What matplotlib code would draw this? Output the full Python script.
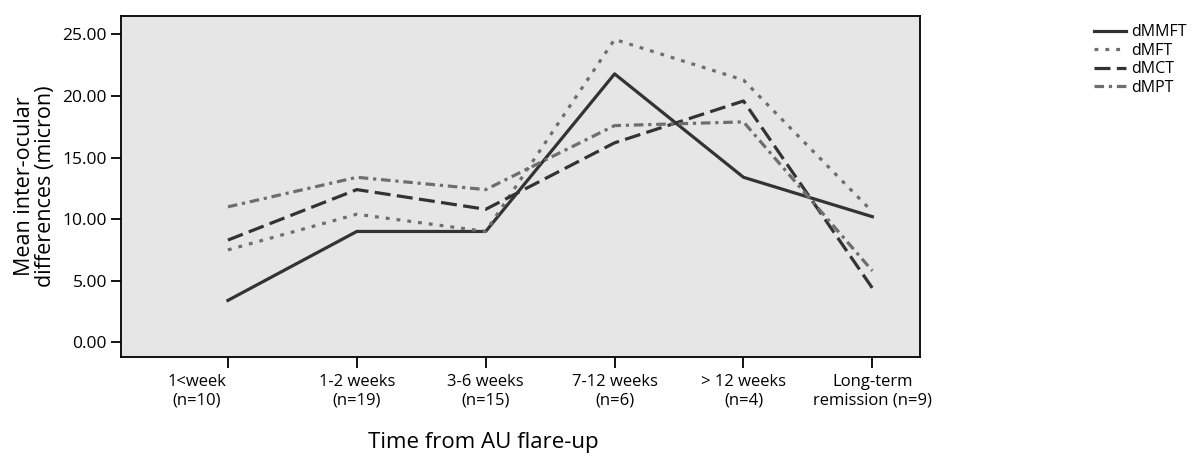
import matplotlib
matplotlib.use("Agg")
import matplotlib.pyplot as plt
import matplotlib.transforms as mtransforms

# categories on the x axis
periods = ["1<week\n(n=10)", "1-2 weeks\n(n=19)", "3-6 weeks\n(n=15)",
           "7-12 weeks\n(n=6)", "> 12 weeks\n(n=4)", "Long-term\nremission (n=9)"]

# mean inter-ocular differences (micron)
dMMFT = [3.4, 9.0, 9.0, 21.8, 13.4, 10.2]
dMFT = [7.5, 10.4, 9.0, 24.6, 21.3, 10.6]
dMCT = [8.3, 12.4, 10.8, 16.2, 19.6, 4.4]
dMPT = [11.0, 13.4, 12.4, 17.6, 17.9, 5.8]

plt.rcParams["font.family"] = ["Open Sans", "DejaVu Sans"]

fig = plt.figure(figsize=(12, 4.58), dpi=100)
ax = fig.add_axes([0.1008, 0.2205, 0.6659, 0.7445])

# grey plot background
ax.set_facecolor("#e6e6e6")

x = range(len(periods))
dark = "#333333"
grey = "#6e6e6e"
ax.plot(x, dMMFT, color=dark, lw=2.3, ls="-", label="dMMFT")
ax.plot(x, dMFT, color=grey, lw=2.3, ls=(0, (1.2, 2.2)), label="dMFT")
ax.plot(x, dMCT, color=dark, lw=2.3, ls=(0, (5, 2)), label="dMCT")
ax.plot(x, dMPT, color=grey, lw=2.3, ls=(0, (3, 1.5, 1, 1.5)), label="dMPT")

ax.set_xlim(-0.83, 5.37)
ax.set_ylim(-1.2, 26.5)
ax.set_xticks(list(x))
ax.set_xticklabels(periods, fontsize=12, linespacing=1.2)
ax.set_yticks([0, 5, 10, 15, 20, 25])
ax.set_yticklabels([f"{v:.2f}" for v in [0, 5, 10, 15, 20, 25]], fontsize=12.5)
ax.tick_params(axis="x", direction="out", length=8, width=1.3, pad=4)
ax.tick_params(axis="y", direction="out", length=7, width=1.3, pad=3)
for s in ax.spines.values():
    s.set_linewidth(1.3)

# first category label sits a little left of its tick in the original
lbl0 = ax.get_xticklabels()[0]
lbl0.set_transform(lbl0.get_transform() +
                   mtransforms.ScaledTranslation(-0.31, 0, fig.dpi_scale_trans))

# axis labels
ax.set_xlabel("Time from AU flare-up", fontsize=16)
ax.xaxis.set_label_coords(0.454, -0.22)
ax.set_ylabel("Mean inter-ocular\ndifferences (micron)", fontsize=15.5, labelpad=5,
              linespacing=1.0)

# legend outside to the right
fig.legend(loc="upper left", bbox_to_anchor=(0.9, 0.978), frameon=False,
           fontsize=11.5, handlelength=2.0, handletextpad=0.3, labelspacing=0.15)

fig.savefig("out.png", dpi=100)
